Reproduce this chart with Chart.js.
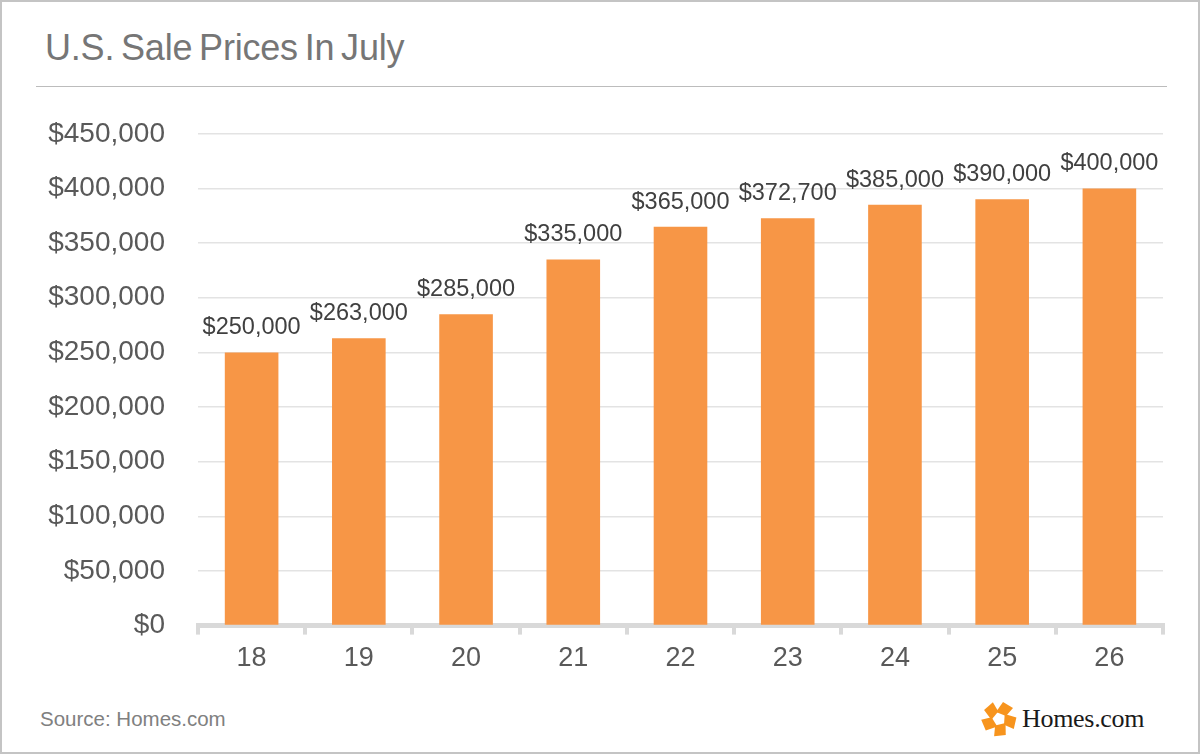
<!DOCTYPE html>
<html>
<head>
<meta charset="utf-8">
<script src="https://cdn.jsdelivr.net/npm/chart.js@4.4.1/dist/chart.umd.min.js"></script>
<style>
  html, body { margin: 0; padding: 0; background: #fff; }
  #frame {
    position: relative; width: 1200px; height: 754px; box-sizing: border-box;
    border: 2px solid #c4c4c4; overflow: hidden; font-family: "Liberation Sans", Arial, sans-serif;
  }
  #title {
    position: absolute; left: 43px; top: 25px; font-size: 36px; color: #767676;
    letter-spacing: -0.2px; word-spacing: -3px; white-space: nowrap;
  }
  #rule { position: absolute; left: 34px; top: 84px; width: 1131px; height: 1px; background: #bcbcbc; }
  #chartBox { position: absolute; left: -2px; top: 82px; width: 1200px; height: 599px; }
  #source { position: absolute; left: 38px; top: 705px; font-size: 20.5px; color: #808080; }
  #logo { position: absolute; left: 978px; top: 698px; display: flex; align-items: center; }
  #logo span { font-family: "Liberation Serif", "DejaVu Serif", serif; font-size: 26px; color: #1a1a1a; margin-left: 4px; letter-spacing: -0.3px; }
</style>
</head>
<body>
<div id="frame">
  <div id="title">U.S. Sale Prices In July</div>
  <div id="rule"></div>
  <div id="chartBox"><canvas id="salesChart"></canvas></div>
  <div id="source">Source: Homes.com</div>
  <div id="logo">
    <svg width="38" height="38" viewBox="-19 -19 38 38">
      <g fill="#f7941d">
        <polygon points="-3,-7 4,-17 14,-11 7,-3" transform="rotate(0)"/>
        <polygon points="-3,-7 4,-17 14,-11 7,-3" transform="rotate(72)"/>
        <polygon points="-3,-7 4,-17 14,-11 7,-3" transform="rotate(144)"/>
        <polygon points="-3,-7 4,-17 14,-11 7,-3" transform="rotate(216)"/>
        <polygon points="-3,-7 4,-17 14,-11 7,-3" transform="rotate(288)"/>
      </g>
    </svg>
    <span>Homes.com</span>
  </div>
</div>
<script>
  // chart data
  const categories = ["18", "19", "20", "21", "22", "23", "24", "25", "26"];
  const salePrices = [250000, 263000, 285000, 335000, 365000, 372700, 385000, 390000, 400000];
  const yTicks = [0, 50000, 100000, 150000, 200000, 250000, 300000, 350000, 400000, 450000];

  const money = v => "$" + Number(v).toLocaleString("en-US");

  // draws the value above each bar, using the bar elements Chart.js laid out
  const barValueLabels = {
    id: "barValueLabels",
    afterDatasetsDraw(chart) {
      const ctx = chart.ctx;
      const meta = chart.getDatasetMeta(0);
      ctx.save();
      ctx.font = '23.5px "Liberation Sans", Arial, sans-serif';
      ctx.fillStyle = "#404040";
      ctx.textAlign = "center";
      ctx.textBaseline = "alphabetic";
      meta.data.forEach((bar, i) => {
        ctx.fillText(money(salePrices[i]), bar.x, bar.y - 18);
      });
      ctx.restore();
    }
  };

  new Chart(document.getElementById("salesChart"), {
    type: "bar",
    data: {
      labels: categories,
      datasets: [{
        data: salePrices,
        backgroundColor: "#f79646",
        borderWidth: 0,
        barPercentage: 0.5,
        categoryPercentage: 1.0
      }]
    },
    options: {
      responsive: true,
      maintainAspectRatio: false,
      animation: false,
      layout: { padding: { left: 0, right: 37, top: 22, bottom: 0 } },
      plugins: { legend: { display: false }, tooltip: { enabled: false } },
      scales: {
        y: {
          min: 0,
          max: 450000,
          afterBuildTicks(scale) { scale.ticks = yTicks.map(v => ({ value: v })); },
          afterFit(scale) { scale.width = 198; },
          border: { display: false },
          grid: { color: "#e3e3e3", lineWidth: 1.5, drawTicks: false },
          ticks: {
            padding: 33,
            color: "#595959",
            font: { family: '"Liberation Sans", Arial, sans-serif', size: 28 },
            callback: v => money(v)
          }
        },
        x: {
          border: { color: "#d9d9d9", width: 5 },
          grid: { display: true, drawOnChartArea: false, offset: true, color: "#d9d9d9", lineWidth: 4, tickLength: 9 },
          ticks: {
            padding: 8,
            color: "#595959",
            font: { family: '"Liberation Sans", Arial, sans-serif', size: 27 }
          }
        }
      }
    },
    plugins: [barValueLabels]
  });
</script>
</body>
</html>
